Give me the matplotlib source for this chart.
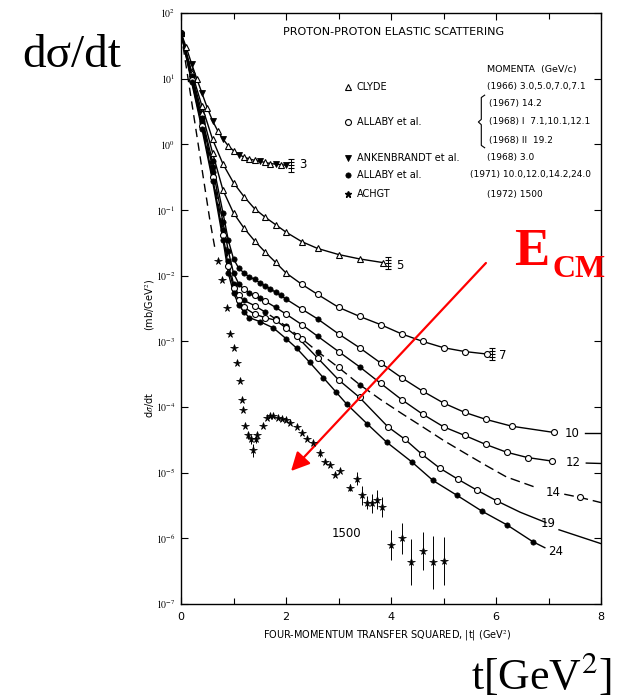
import matplotlib
matplotlib.use('Agg')
import matplotlib.pyplot as plt
from matplotlib.ticker import FixedLocator, FuncFormatter, NullLocator
import numpy as np

plt.rcParams['mathtext.fontset'] = 'stix'

# |t| in GeV^2, dsigma/dt in mb/GeV^2
# marker codes per point: '^' open triangle, 'v' filled down-triangle,
# 'o' open circle, '.' filled dot, '-' no marker
t3 = [0, 0.1, 0.2, 0.3, 0.4, 0.5, 0.6, 0.7, 0.8, 0.9, 1.0, 1.1, 1.2, 1.3, 1.4,
      1.5, 1.6, 1.7, 1.8, 1.9, 2.0]
y3 = [50, 30, 17, 10, 6, 3.6, 2.3, 1.6, 1.2, 0.95, 0.8, 0.7, 0.64, 0.6, 0.57,
      0.55, 0.53, 0.51, 0.5, 0.49, 0.48]
m3 = "^^v^v^v^v^^v^^^v^^v^v"

t5 = [0, 0.2, 0.4, 0.6, 0.8, 1.0, 1.2, 1.4, 1.6, 1.8, 2.0, 2.3, 2.6, 3.0, 3.4, 3.85]
y5 = [50, 13, 3.8, 1.2, 0.5, 0.26, 0.16, 0.105, 0.078, 0.06, 0.046, 0.033,
      0.026, 0.021, 0.018, 0.0158]
m5 = "^" * 16

t7 = [0, 0.2, 0.4, 0.6, 0.8, 1.0, 1.2, 1.4, 1.6, 1.8, 2.0, 2.3, 2.6, 3.0, 3.4,
      3.8, 4.2, 4.6, 5.0, 5.4, 5.83]
y7 = [50, 12, 3.0, 0.75, 0.2, 0.09, 0.053, 0.034, 0.023, 0.016, 0.011, 0.0074,
      0.0052, 0.0033, 0.0024, 0.0018, 0.0013, 0.001, 8.0e-4, 7.0e-4, 6.4e-4]
m7 = "^" * 11 + "o" * 10

t10 = [0, 0.2, 0.4, 0.6, 0.8, 0.9, 1.0, 1.1, 1.2, 1.3, 1.4, 1.5, 1.6, 1.7, 1.8,
       1.9, 2.0, 2.3, 2.6, 3.0, 3.4, 3.8, 4.2, 4.6, 5.0, 5.4, 5.8, 6.3, 7.1]
y10 = [50, 11, 2.5, 0.55, 0.09, 0.035, 0.018, 0.013, 0.011, 0.0096, 0.0088,
       0.0078, 0.007, 0.0063, 0.0056, 0.005, 0.0044, 0.0031, 0.0022, 0.0013,
       8.0e-4, 4.7e-4, 2.8e-4, 1.75e-4, 1.15e-4, 8.3e-5, 6.5e-5, 5.1e-5, 4.1e-5]
m10 = "." * 17 + "o.ooo" + "o" * 7

t12 = [0, 0.2, 0.4, 0.6, 0.8, 0.9, 1.0, 1.1, 1.2, 1.3, 1.4, 1.5, 1.6, 1.8, 2.0,
       2.3, 2.6, 3.0, 3.4, 3.8, 4.2, 4.6, 5.0, 5.4, 5.8, 6.2, 6.6, 7.07]
y12 = [50, 10.5, 2.3, 0.45, 0.065, 0.024, 0.011, 0.0075, 0.0062, 0.0055, 0.005,
       0.0045, 0.0041, 0.0033, 0.0026, 0.0018, 0.0012, 7.0e-4, 4.1e-4, 2.3e-4,
       1.3e-4, 7.8e-5, 5.0e-5, 3.7e-5, 2.7e-5, 2.05e-5, 1.7e-5, 1.5e-5]
m12 = "......." + ".o.o.o.o" + "o.o.o" + "o" * 8

t14 = [0, 0.2, 0.4, 0.6, 0.8, 0.9, 1.0, 1.1, 1.2, 1.4, 1.6, 1.8, 2.0, 2.3, 2.6,
       3.0, 3.4, 3.8, 4.2, 4.6, 5.0, 5.4, 5.8, 6.2, 6.8]
y14 = [50, 10, 2.1, 0.38, 0.05, 0.017, 0.0075, 0.005, 0.0042, 0.0035, 0.0028,
       0.0022, 0.0017, 0.0011, 7.0e-4, 4.0e-4, 2.2e-4, 1.3e-4, 8.0e-5, 5.0e-5,
       3.1e-5, 2.0e-5, 1.3e-5, 8.6e-6, 5.8e-6]
m14 = "......." + "o.o.o.o." + "o.-" + "-" * 7

t19 = [0, 0.2, 0.4, 0.6, 0.8, 0.9, 1.0, 1.1, 1.2, 1.4, 1.6, 1.8, 2.0, 2.2, 2.6,
       3.0, 3.4, 3.94, 4.27, 4.59, 4.93, 5.28, 5.64, 6.02, 6.46, 6.95]
y19 = [50, 9.5, 1.9, 0.32, 0.042, 0.014, 0.0065, 0.0042, 0.0033, 0.0026, 0.0023,
       0.0021, 0.0016, 0.0012, 5.6e-4, 2.6e-4, 1.4e-4, 5.0e-5, 3.2e-5, 1.9e-5,
       1.17e-5, 7.9e-6, 5.4e-6, 3.7e-6, 2.5e-6, 1.74e-6]
m19 = "o" * 24 + "--"

t24 = [0, 0.2, 0.4, 0.6, 0.8, 0.9, 1.0, 1.1, 1.2, 1.3, 1.5, 1.76, 2.0, 2.2, 2.45,
       2.71, 2.95, 3.16, 3.54, 3.92, 4.4, 4.8, 5.26, 5.73, 6.21, 6.7, 6.93]
y24 = [50, 9, 1.7, 0.28, 0.035, 0.011, 0.0055, 0.0036, 0.0028, 0.0023, 0.002,
       0.0016, 0.0011, 7.9e-4, 4.8e-4, 2.8e-4, 1.7e-4, 1.1e-4, 5.6e-5, 2.9e-5,
       1.45e-5, 7.6e-6, 4.5e-6, 2.6e-6, 1.6e-6, 8.9e-7, 7.2e-7]
m24 = "." * 26 + "-"

# line continuations to the right of the momentum labels
tail10_t, tail10_y = [7.7, 8.0], [4.0e-5, 4.0e-5]
tail12_t, tail12_y = [7.72, 8.0], [1.4e-5, 1.38e-5]
tail14_t, tail14_y = [7.3, 7.6, 8.0], [4.7e-6, 4.2e-6, 3.5e-6]
tail19_t, tail19_y = [7.2, 8.0], [1.35e-6, 8.3e-7]

# ISR 1500 GeV/c: forward exponential and measured points
fit1500_t = [0, 0.2, 0.4, 0.55, 0.65]
fit1500_y = [50, 4.6, 0.42, 0.07, 0.025]
s_t = [0.70, 0.78, 0.88, 0.93, 1.00, 1.07, 1.12, 1.16, 1.18, 1.22, 1.28, 1.33,
       1.37, 1.42, 1.45, 1.56, 1.63, 1.70, 1.76, 1.84, 1.92, 2.00, 2.08, 2.20,
       2.30, 2.40, 2.52, 2.64, 2.74, 2.84, 2.93, 3.03, 3.22, 3.35, 3.45, 3.54,
       3.64, 3.73, 3.83, 4.00, 4.20, 4.38, 4.60, 4.80, 5.00]
s_y = [1.7e-2, 8.5e-3, 3.2e-3, 1.3e-3, 7.9e-4, 4.6e-4, 2.5e-4, 1.26e-4, 8.9e-5,
       5.2e-5, 3.7e-5, 3.2e-5, 2.2e-5, 3.2e-5, 3.7e-5, 5.2e-5, 6.9e-5, 7.4e-5,
       7.2e-5, 6.9e-5, 6.6e-5, 6.3e-5, 5.8e-5, 4.9e-5, 4.0e-5, 3.3e-5, 2.8e-5,
       2.0e-5, 1.45e-5, 1.3e-5, 9.1e-6, 1.07e-5, 5.9e-6, 8.1e-6, 4.5e-6, 3.5e-6,
       3.4e-6, 3.9e-6, 3.0e-6, 7.9e-7, 1.0e-6, 4.3e-7, 6.5e-7, 4.3e-7, 4.5e-7]
# error half-widths in decades
s_err = [0, 0, 0, 0, 0, 0, 0, 0, 0, 0, 0.05, 0.07, 0.1, 0.06, 0,
         0, 0, 0, 0, 0, 0, 0, 0, 0, 0, 0, 0, 0.06, 0, 0,
         0, 0, 0.05, 0.1, 0.15, 0.1, 0.15, 0.15, 0.15, 0.23, 0.24, 0.35, 0.29, 0.4, 0.37]

legend_names = ["CLYDE", "ALLABY et al.", "ANKENBRANDT et al.", "ALLABY et al.", "ACHGT"]
legend_refs = ["(1966) 3.0,5.0,7.0,7.1", None, "(1968) 3.0",
               "(1971) 10.0,12.0,14.2,24.0", "(1972) 1500"]
allaby_refs = ["(1967) 14.2", "(1968) I  7.1,10.1,12.1", "(1968) II  19.2"]

styles = {
    '^': dict(marker='^', mfc='white', mec='black', ms=4.5, mew=0.8),
    'v': dict(marker='v', mfc='black', mec='black', ms=4.5, mew=0.6),
    'o': dict(marker='o', mfc='white', mec='black', ms=4.3, mew=0.8),
    '.': dict(marker='o', mfc='black', mec='black', ms=3.8, mew=0.5),
}


def curve(ax, t, y, codes, ls='-'):
    t = np.asarray(t)
    y = np.asarray(y)
    ax.plot(t, y, color='black', lw=1.0, ls=ls, zorder=2)
    for c, st in styles.items():
        sel = np.array([ch == c for ch in codes])
        if sel.any():
            ax.plot(t[sel], y[sel], ls='none', zorder=3, **st)


def hatch(ax, t, y):
    ht = t + 0.1
    ys = y * np.array([0.8, 0.9, 1.0, 1.11, 1.23])
    ax.plot([ht, ht], [ys[0], ys[-1]], color='black', lw=0.7)
    ax.plot(np.full(len(ys), ht), ys, ls='none', marker='_', ms=5, mew=0.8,
            color='black')


fig = plt.figure(figsize=(6.19, 7.0), dpi=100)
ax = fig.add_axes([181 / 619, 96 / 700, 420 / 619, 591 / 700])
ax.set_yscale('log')
ax.set_xlim(0, 8)
ax.set_ylim(1e-7, 1e2)

curve(ax, t3, y3, m3)
curve(ax, t5, y5, m5)
curve(ax, t7, y7, m7)
curve(ax, t10, y10, m10)
curve(ax, t12, y12, m12)
curve(ax, t14, y14, m14, ls=(0, (7, 3.5)))
curve(ax, t19, y19, m19)
curve(ax, t24, y24, m24)
hatch(ax, t3[-1], y3[-1])
hatch(ax, t5[-1], y5[-1])
hatch(ax, t7[-1], y7[-1])

ax.plot(tail10_t, tail10_y, color='black', lw=1.0)
ax.plot(tail12_t, tail12_y, color='black', lw=1.0)
ax.plot(tail14_t, tail14_y, color='black', lw=1.0, ls=(0, (7, 3.5)))
ax.plot(tail14_t[1], tail14_y[1], ls='none', **styles['o'])
ax.plot(tail19_t, tail19_y, color='black', lw=1.0)

ax.plot(fit1500_t, fit1500_y, color='black', lw=1.0, ls=(0, (6, 4)))
sy = np.asarray(s_y)
se = np.asarray(s_err)
yerr = [sy - sy * 10 ** -se, sy * 10 ** se - sy]
ax.errorbar(s_t, sy, yerr=yerr, fmt='*', color='black', ms=5.5, mew=0.5,
            elinewidth=0.7, capsize=0, zorder=3)

labels = {'3': (2.33, 0.5), '5': (4.17, 0.0145), '7': (6.13, 6.0e-4),
          '10': (7.45, 4.0e-5), '12': (7.47, 1.45e-5), '14': (7.09, 5.0e-6),
          '19': (6.99, 1.7e-6), '24': (7.14, 6.3e-7), '1500': (3.16, 1.2e-6)}
for txt, (lx, ly) in labels.items():
    ax.text(lx, ly, txt, ha='center', va='center', fontsize=8.5)

# axes, ticks
for sp in ax.spines.values():
    sp.set_linewidth(1.0)
ax.xaxis.set_major_locator(FixedLocator([0, 2, 4, 6, 8]))
ax.xaxis.set_minor_locator(FixedLocator([1, 3, 5, 7]))
ax.yaxis.set_major_locator(FixedLocator([10.0 ** k for k in range(-7, 3)]))
ax.yaxis.set_minor_locator(NullLocator())
ax.yaxis.set_major_formatter(FuncFormatter(
    lambda v, p: r'$10^{%d}$' % round(np.log10(v))))
ax.tick_params(which='both', direction='in', top=True, right=True, width=0.8)
ax.tick_params(which='major', length=5)
ax.tick_params(which='minor', length=4)
ax.tick_params(axis='x', labelsize=8, pad=6)
ax.tick_params(axis='y', labelsize=7, pad=4)

ax.text(0.49, -0.054, "FOUR-MOMENTUM TRANSFER SQUARED, |t| (GeV$^2$)",
        transform=ax.transAxes, ha='center', va='center', fontsize=7)
ax.text(-0.074, 0.337, r"d$\sigma$/dt", transform=ax.transAxes, rotation=90,
        ha='center', va='center', fontsize=7)
ax.text(-0.074, 0.506, "(mb/GeV$^2$)", transform=ax.transAxes, rotation=90,
        ha='center', va='center', fontsize=7)

# title and key
ax.text(0.507, 0.968, "PROTON-PROTON ELASTIC SCATTERING", transform=ax.transAxes,
        ha='center', va='center', fontsize=8)
ax.text(0.729, 0.9036, "MOMENTA  (GeV/c)", transform=ax.transAxes,
        ha='left', va='center', fontsize=6.8)
row_y = [0.8748, 0.8156, 0.7547, 0.7259, 0.6937]
key_mk = [styles['^'], styles['o'], styles['v'], styles['.'],
          dict(marker='*', color='black', ms=5)]
for yy, name, ref, mk in zip(row_y, legend_names, legend_refs, key_mk):
    ax.plot([0.398], [yy], transform=ax.transAxes, ls='none', **mk)
    ax.text(0.419, yy, name, transform=ax.transAxes, ha='left', va='center',
            fontsize=7)
    if ref is not None:
        rx = 0.688 if ref.startswith("(1971)") else 0.729
        ax.text(rx, yy, ref, transform=ax.transAxes, ha='left', va='center',
                fontsize=6.5)
for yy, ref in zip([0.8477, 0.8156, 0.7851], allaby_refs):
    ax.text(0.733, yy, ref, transform=ax.transAxes, ha='left', va='center',
            fontsize=6.5)
bx = 0.715
ax.plot([bx + 0.008, bx, bx, bx - 0.007, bx, bx, bx + 0.008],
        [0.861, 0.857, 0.820, 0.8156, 0.811, 0.776, 0.772],
        transform=ax.transAxes, color='black', lw=0.8)

# energy arrow
red = '#ff0000'
ax.annotate("", xy=(0.262, 0.225), xytext=(0.726, 0.577),
            xycoords='axes fraction', textcoords='axes fraction',
            arrowprops=dict(arrowstyle='-|>', color=red, lw=1.6,
                            mutation_scale=28, shrinkA=0, shrinkB=0))
fig.text(0.830, 0.621, "E", color=red, fontsize=38, fontweight='bold',
         family='Liberation Serif', ha='left', va='baseline')
fig.text(0.893, 0.604, "CM", color=red, fontsize=23, fontweight='bold',
         family='Liberation Serif', ha='left', va='baseline')

fig.text(0.0355, 0.904, "d\u03c3/dt", fontsize=34, family='Liberation Serif',
         ha='left', va='baseline')
fig.text(0.761, 0.016, "t[GeV$^2$]", fontsize=31.5, family='Liberation Serif',
         ha='left', va='baseline')

fig.savefig('out.png', dpi=100)
